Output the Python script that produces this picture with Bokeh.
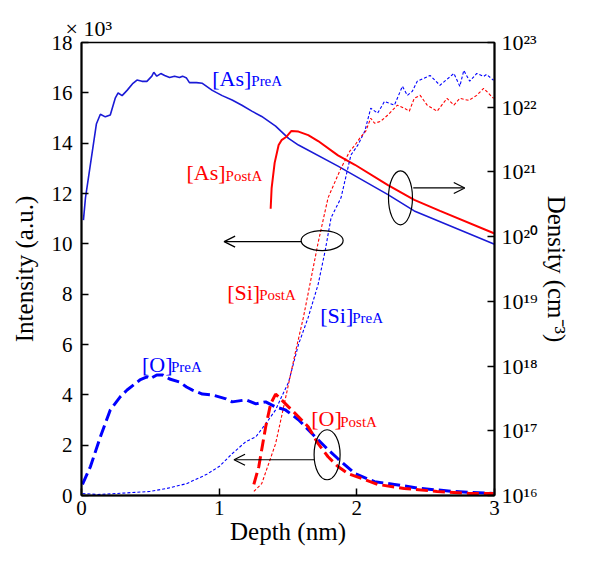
from bokeh.plotting import figure
from bokeh.models import (Range1d, LogScale, LogAxis, FixedTicker, CustomJSTickFormatter,
                          Label, Arrow, OpenHead)
from bokeh.embed import file_html
from bokeh.resources import INLINE

FONT = "Liberation Serif"
BLUE = "#0000ff"
LINE_BLUE = "#1a1ad6"
RED = "#ff0000"

# ---------------- data ----------------
x_ticks = [0, 1, 2, 3]
y_ticks = [0, 2, 4, 6, 8, 10, 12, 14, 16, 18]
dens_ticks = [1e16, 1e17, 1e18, 1e19, 1e20, 1e21, 1e22, 1e23]

# [As] density (cm^-3), right log axis
as_pre_depth = [0.014, 0.029, 0.108, 0.137, 0.173, 0.209, 0.245, 0.266, 0.295, 0.331, 0.374,
                0.403, 0.439, 0.475, 0.511, 0.525, 0.547, 0.576, 0.604, 0.640, 0.676, 0.712,
                0.734, 0.763, 0.784, 0.835, 0.878, 0.950, 1.022, 1.094, 1.165, 1.237, 1.309,
                1.410, 1.504, 1.576, 1.863, 2.223, 2.417, 3.0]
as_pre_dens = [1.8e20, 4.0e20, 5.5e21, 7.8e21, 7.1e21, 7.6e21, 1.38e22, 1.66e22, 1.51e22,
               1.82e22, 2.34e22, 2.63e22, 2.51e22, 2.51e22, 3.02e22, 3.47e22, 3.02e22, 3.31e22,
               3.09e22, 2.88e22, 3.02e22, 2.88e22, 3.02e22, 2.82e22, 2.40e22, 2.40e22, 2.34e22,
               1.82e22, 1.51e22, 1.29e22, 1.07e22, 8.7e21, 7.2e21, 5.1e21, 3.3e21, 2.6e21,
               1.23e21, 4.5e20, 2.5e20, 7.6e19]

as_post_depth = [1.374, 1.381, 1.403, 1.432, 1.453, 1.489, 1.525, 1.576, 1.647, 1.719, 1.863,
                 1.986, 2.223, 2.417, 2.604, 3.0]
as_post_dens = [2.7e20, 5.6e20, 1.38e21, 2.6e21, 3.1e21, 3.5e21, 4.3e21, 4.2e21, 3.7e21,
                3.0e21, 1.8e21, 1.29e21, 6.3e20, 3.7e20, 2.5e20, 1.12e20]

# [Si] intensity (x10^3 a.u.), left axis
si_pre_depth = [0.007, 0.115, 0.259, 0.496, 0.619, 0.763, 0.906, 1.0, 1.094, 1.194, 1.266, 1.338,
                1.410, 1.453, 1.504, 1.576, 1.647, 1.719, 1.770, 1.813, 1.885, 1.957, 2.007,
                2.058, 2.101, 2.151, 2.201, 2.273, 2.331, 2.367, 2.403, 2.439, 2.532, 2.604,
                2.705, 2.748, 2.777, 2.820, 2.871, 2.921, 2.942, 2.993]
si_pre_int = [0.08, 0.04, 0.08, 0.16, 0.28, 0.47, 0.83, 1.15, 1.66, 2.14, 2.33, 2.85, 3.40, 3.92,
              4.50, 6.00, 7.08, 8.39, 9.73, 11.04, 11.83, 13.53, 13.92, 14.48, 15.39, 15.19,
              15.66, 15.51, 16.26, 15.90, 16.06, 16.46, 16.69, 16.30, 16.77, 16.26, 16.89, 16.46,
              16.77, 16.65, 16.73, 16.50]

si_post_depth = [1.252, 1.309, 1.360, 1.410, 1.453, 1.504, 1.554, 1.612, 1.669, 1.719, 1.791,
                 1.885, 1.950, 1.986, 2.022, 2.065, 2.101, 2.129, 2.173, 2.223, 2.295, 2.345,
                 2.381, 2.417, 2.460, 2.511, 2.583, 2.655, 2.705, 2.748, 2.813, 2.871, 2.921,
                 2.957, 2.993]
si_post_int = [0.16, 0.47, 1.27, 2.06, 3.13, 4.43, 5.70, 7.08, 8.66, 10.05, 11.83, 13.01, 13.69,
               13.92, 14.20, 14.48, 14.99, 14.79, 14.87, 15.11, 15.51, 15.39, 15.27, 15.78, 15.90,
               15.51, 15.27, 15.78, 15.51, 15.78, 15.70, 15.90, 16.18, 15.98, 15.78]

# [O] intensity (x10^3 a.u.), left axis
o_pre_depth = [0.007, 0.065, 0.137, 0.209, 0.281, 0.331, 0.424, 0.475, 0.496, 0.547, 0.590, 0.640,
               0.712, 0.763, 0.806, 0.878, 0.950, 1.050, 1.094, 1.194, 1.266, 1.338, 1.410,
               1.482, 1.576, 1.698, 1.791, 1.863, 1.986, 2.129, 2.273, 2.460, 2.705, 2.993]
o_pre_int = [0.44, 1.15, 2.33, 3.40, 3.92, 4.19, 4.59, 4.71, 4.63, 4.79, 4.79, 4.63, 4.51, 4.31,
             4.19, 4.03, 4.00, 3.84, 3.72, 3.80, 3.64, 3.72, 3.52, 3.40, 3.01, 2.33, 1.82, 1.46,
             0.87, 0.55, 0.44, 0.28, 0.16, 0.08]

o_post_depth = [1.252, 1.288, 1.309, 1.338, 1.374, 1.410, 1.453, 1.504, 1.576, 1.647, 1.719,
                1.791, 1.863, 1.935, 2.058, 2.151, 2.345, 2.583, 2.820, 2.993]
o_post_int = [0.44, 1.15, 1.82, 2.73, 3.64, 4.03, 3.80, 3.52, 3.13, 2.73, 2.06, 1.54, 1.15, 0.87,
              0.63, 0.44, 0.28, 0.16, 0.08, 0.08]

# ---------------- figure ----------------
p = figure(width=573, height=547, output_backend="svg", toolbar_location=None,
           x_range=Range1d(0, 3), y_range=Range1d(0, 18),
           min_border_left=81, min_border_right=76, min_border_top=42, min_border_bottom=52,
           background_fill_color="white", border_fill_color="white")
p.extra_y_ranges = {"dens": Range1d(1e16, 1e23)}
p.extra_y_scales = {"dens": LogScale()}
p.grid.visible = False
p.outline_line_color = "black"
p.outline_line_width = 1.5
p.outline_line_alpha = 1.0

p.title.text = "\u00d7 10\u00b3"
p.title.align = "left"
p.title.offset = -16
p.title.standoff = 3
p.title.text_font = FONT
p.title.text_font_size = "22px"
p.title.text_font_style = "normal"
p.title.text_color = "black"


def style_axis(ax, size="21px"):
    ax.axis_line_width = 2
    ax.axis_line_color = "black"
    ax.major_tick_in = 7
    ax.major_tick_out = 0
    ax.major_tick_line_width = 1.5
    ax.minor_tick_line_color = None
    ax.major_label_text_font = FONT
    ax.major_label_text_font_size = size
    ax.major_label_text_color = "black"
    ax.axis_label_text_font = FONT
    ax.axis_label_text_font_size = "25px"
    ax.axis_label_text_font_style = "normal"
    ax.axis_label_text_color = "black"


xa = p.xaxis[0]
xa.ticker = FixedTicker(ticks=x_ticks)
xa.axis_label = "Depth (nm)"
style_axis(xa)
xa.major_label_standoff = 5
xa.axis_label_standoff = 0

ya = p.yaxis[0]
ya.ticker = FixedTicker(ticks=y_ticks)
ya.axis_label = "Intensity (a.u.)"
style_axis(ya)
ya.major_label_standoff = 9
ya.axis_label_standoff = 11

sup_js = """
const sup = {'0':'\u2070','1':'\u00b9','2':'\u00b2','3':'\u00b3','4':'\u2074',
             '5':'\u2075','6':'\u2076','7':'\u2077','8':'\u2078','9':'\u2079'};
const e = Math.round(Math.log10(tick));
return '10' + String(e).split('').map(c => sup[c]).join('');
"""
ra = LogAxis(y_range_name="dens", ticker=FixedTicker(ticks=dens_ticks),
             formatter=CustomJSTickFormatter(code=sup_js), axis_label="Density (cm\u207b\u00b3)")
style_axis(ra, size="22px")
ra.major_label_standoff = 7
ra.axis_label_standoff = 2
p.add_layout(ra, "right")

# ---------------- curves ----------------
p.line(as_pre_depth, as_pre_dens, y_range_name="dens", line_color=LINE_BLUE, line_width=1.6)
p.line(as_post_depth, as_post_dens, y_range_name="dens", line_color=RED, line_width=2)
p.line(si_pre_depth, si_pre_int, line_color=BLUE, line_width=1.1, line_dash="3 2")
p.line(si_post_depth, si_post_int, line_color=RED, line_width=1.1, line_dash="3 2")
p.line(o_pre_depth, o_pre_int, line_color=BLUE, line_width=3, line_dash="12 5")
p.line(o_post_depth, o_post_int, line_color=RED, line_width=3, line_dash="12 5")

# ---------------- annotations ----------------
def species_label(main, sub, x, y, color, dx):
    p.add_layout(Label(x=x, y=y, text=main, text_font=FONT, text_font_size="22px",
                       text_color=color, text_baseline="alphabetic", text_align="left"))
    p.add_layout(Label(x=x, y=y, x_offset=dx, y_offset=-3, text=sub, text_font=FONT,
                       text_font_size="15px", text_color=color, text_baseline="alphabetic",
                       text_align="left"))


species_label("[As]", "PreA", 0.950, 16.57, BLUE, 39)
species_label("[As]", "PostA", 0.763, 12.82, RED, 39)
species_label("[Si]", "PostA", 1.058, 8.07, RED, 32)
species_label("[Si]", "PreA", 1.734, 7.16, BLUE, 32)
species_label("[O]", "PreA", 0.439, 5.22, BLUE, 29)
species_label("[O]", "PostA", 1.669, 3.05, RED, 29)

# ellipses + arrows
p.ellipse(x=[2.317], y=[11.83], width=24, height=54, width_units="screen",
          height_units="screen", fill_color=None, line_color="black", line_width=1.2)
p.ellipse(x=[1.748], y=[10.13], width=42, height=20, width_units="screen",
          height_units="screen", fill_color=None, line_color="black", line_width=1.2)
p.ellipse(x=[1.784], y=[1.62], width=26, height=50, width_units="screen",
          height_units="screen", fill_color=None, line_color="black", line_width=1.2)

for xs, ys, xe in [(2.41, 12.22, 2.784), (1.597, 10.09, 1.036), (1.691, 1.42, 1.108)]:
    p.add_layout(Arrow(end=OpenHead(size=11, line_width=1.3, line_color="black"),
                       x_start=xs, y_start=ys, x_end=xe, y_end=ys,
                       line_color="black", line_width=1.2))

open("out.html", "w").write(file_html(p, INLINE))
